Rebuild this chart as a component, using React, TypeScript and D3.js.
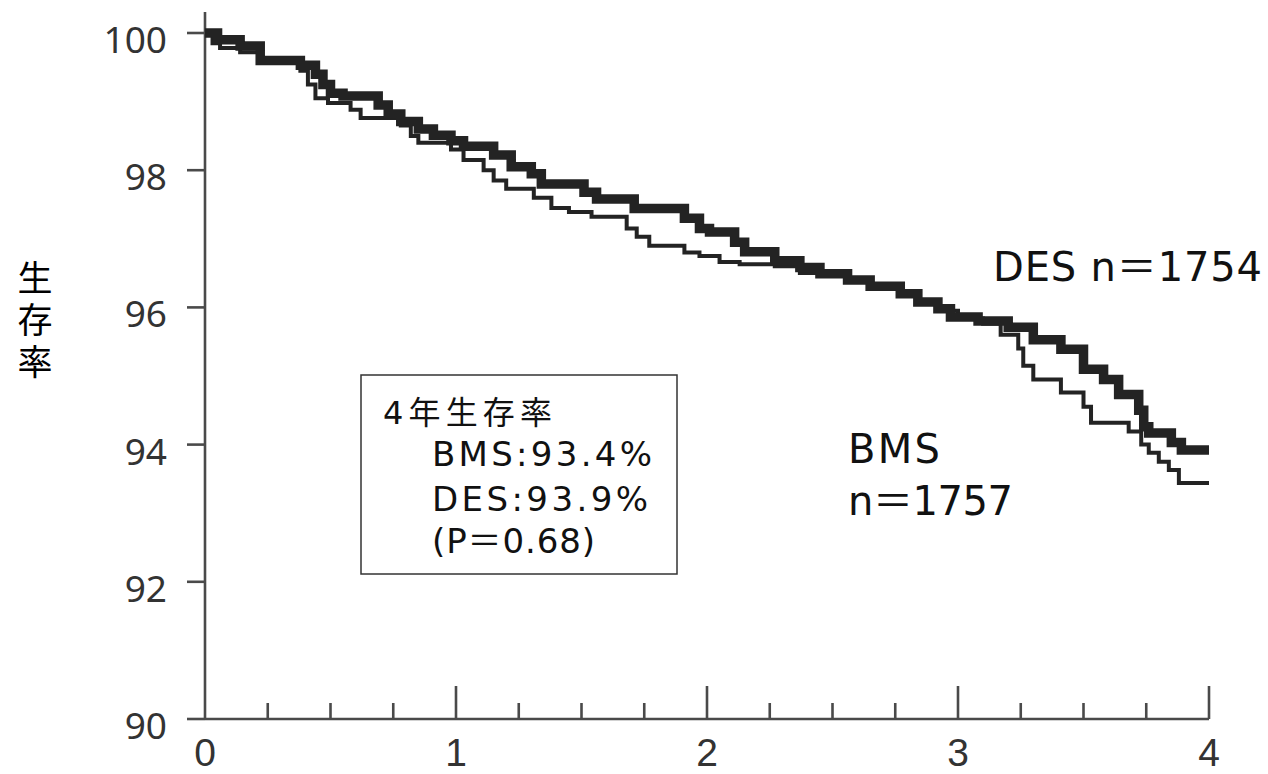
import React, { useEffect, useRef } from 'react';
import * as d3 from 'd3';

// Kaplan-Meier steps: [years, survival %]
const desPoints: [number, number][] = [
  [0, 100], [0.05, 99.9], [0.14, 99.81], [0.22, 99.6], [0.38, 99.53], [0.44, 99.4],
  [0.47, 99.25], [0.5, 99.12], [0.55, 99.08], [0.69, 98.95], [0.73, 98.82], [0.78, 98.71],
  [0.85, 98.6], [0.91, 98.51], [0.98, 98.43], [1.03, 98.35], [1.15, 98.22], [1.22, 98.05],
  [1.3, 97.95], [1.34, 97.8], [1.51, 97.68], [1.56, 97.58], [1.71, 97.44], [1.91, 97.3],
  [1.97, 97.15], [2.01, 97.1], [2.11, 96.95], [2.15, 96.81], [2.27, 96.68], [2.37, 96.58],
  [2.45, 96.49], [2.56, 96.4], [2.65, 96.31], [2.77, 96.2], [2.84, 96.08], [2.92, 95.98],
  [2.97, 95.86], [3.08, 95.8], [3.2, 95.71], [3.3, 95.53], [3.41, 95.39], [3.5, 95.1],
  [3.58, 94.95], [3.64, 94.73], [3.72, 94.5], [3.74, 94.26], [3.76, 94.17], [3.85, 94.03],
  [3.89, 93.92], [4.0, 93.92],
];

const bmsPoints: [number, number][] = [
  [0, 100], [0.03, 99.85], [0.06, 99.78], [0.14, 99.72], [0.22, 99.62], [0.38, 99.45],
  [0.41, 99.25], [0.44, 99.05], [0.49, 98.98], [0.58, 98.88], [0.62, 98.76], [0.78, 98.65],
  [0.82, 98.5], [0.85, 98.4], [0.98, 98.3], [1.03, 98.15], [1.11, 98.0], [1.15, 97.85],
  [1.2, 97.73], [1.31, 97.6], [1.38, 97.45], [1.45, 97.39], [1.54, 97.32], [1.68, 97.15],
  [1.72, 97.03], [1.77, 96.9], [1.91, 96.8], [1.97, 96.75], [2.05, 96.66], [2.13, 96.63],
  [2.27, 96.6], [2.37, 96.5], [2.56, 96.4], [2.65, 96.3], [2.77, 96.18], [2.84, 96.06],
  [2.92, 95.95], [3.0, 95.84], [3.1, 95.76], [3.17, 95.6], [3.24, 95.4], [3.26, 95.15],
  [3.3, 94.95], [3.41, 94.76], [3.5, 94.55], [3.53, 94.32], [3.68, 94.19], [3.73, 94.0],
  [3.76, 93.88], [3.8, 93.75], [3.84, 93.63], [3.88, 93.44], [4.0, 93.44],
];

const yTickValues = [90, 92, 94, 96, 98, 100];
const xTickValues = [0, 1, 2, 3, 4];
const xMinorTicks = d3.range(0.25, 4, 0.25).filter(d => !Number.isInteger(d));
const yTitle = '生存率';
const boxLines = ['4年生存率', 'BMS:93.4%', 'DES:93.9%', '(P＝0.68)'];
const desLabel = 'DES n＝1754';
const bmsLabel = ['BMS', 'n＝1757'];

const width = 1268;
const height = 774;
const latinFont = '"DejaVu Sans", "Noto Sans CJK JP", sans-serif';

const SurvivalChart = () => {
  const svgRef = useRef<SVGSVGElement>(null);

  useEffect(() => {
    const svg = d3.select(svgRef.current);
    svg.selectAll('*').remove();

    const x = d3.scaleLinear().domain([0, 4]).range([205, 1209]);
    const y = d3.scaleLinear().domain([90, 100]).range([719, 33]);
    const axisColor = '#4a4a4a';

    // axes
    svg.append('line')
      .attr('x1', x(0)).attr('x2', x(0)).attr('y1', 12).attr('y2', y(90))
      .attr('stroke', axisColor).attr('stroke-width', 2.6);
    svg.append('line')
      .attr('x1', x(0)).attr('x2', x(4)).attr('y1', y(90)).attr('y2', y(90))
      .attr('stroke', axisColor).attr('stroke-width', 2.6);

    // y ticks + labels
    const yt = svg.append('g');
    yt.selectAll('line').data(yTickValues).enter().append('line')
      .attr('x1', x(0) - 18).attr('x2', x(0))
      .attr('y1', d => y(d)).attr('y2', d => y(d))
      .attr('stroke', axisColor).attr('stroke-width', 2.6);
    yt.selectAll('text').data(yTickValues).enter().append('text')
      .attr('x', 167).attr('y', d => y(d) + 20)
      .attr('text-anchor', 'end')
      .attr('font-family', 'Noto Sans').attr('font-size', 37)
      .attr('fill', '#333')
      .text(d => d);

    // x ticks: long at whole years, short at quarters
    const xt = svg.append('g');
    xt.selectAll('line.major').data(xTickValues.filter(d => d > 0)).enter().append('line')
      .attr('class', 'major')
      .attr('x1', d => x(d)).attr('x2', d => x(d))
      .attr('y1', y(90)).attr('y2', y(90) - 33)
      .attr('stroke', axisColor).attr('stroke-width', 2.6);
    xt.selectAll('line.minor').data(xMinorTicks).enter().append('line')
      .attr('class', 'minor')
      .attr('x1', d => x(d)).attr('x2', d => x(d))
      .attr('y1', y(90)).attr('y2', y(90) - 16)
      .attr('stroke', axisColor).attr('stroke-width', 2.6);
    xt.selectAll('text').data(xTickValues).enter().append('text')
      .attr('x', d => x(d)).attr('y', 766)
      .attr('text-anchor', 'middle')
      .attr('font-family', 'Liberation Sans').attr('font-size', 39)
      .attr('fill', '#333')
      .text(d => d);

    // curves
    const line = d3.line<[number, number]>()
      .x(d => x(d[0]))
      .y(d => y(d[1]))
      .curve(d3.curveStepAfter);

    svg.append('path')
      .datum(bmsPoints)
      .attr('fill', 'none').attr('stroke', '#232323').attr('stroke-width', 4)
      .attr('d', line);
    svg.append('path')
      .datum(desPoints)
      .attr('fill', 'none').attr('stroke', '#232323').attr('stroke-width', 9.5)
      .attr('d', line);

    // y title, written vertically
    svg.append('text')
      .attr('x', 35).attr('y', 260)
      .style('writing-mode', 'vertical-rl')
      .attr('font-family', 'Noto Sans CJK JP').attr('font-size', 35)
      .attr('letter-spacing', 7)
      .attr('fill', '#000')
      .text(yTitle);

    // summary box
    svg.append('rect')
      .attr('x', 361).attr('y', 375).attr('width', 316).attr('height', 199)
      .attr('fill', '#fff').attr('stroke', '#333').attr('stroke-width', 1.5);
    const boxX = [383, 432, 432, 432];
    const boxY = [424, 466, 511, 553];
    const boxW = [169, 220, 216, 163];
    svg.append('g').selectAll('text').data(boxLines).enter().append('text')
      .attr('x', (d, i) => boxX[i]).attr('y', (d, i) => boxY[i])
      .attr('font-family', latinFont)
      .attr('font-size', (d, i) => (i === 0 ? 32 : 34))
      .attr('textLength', (d, i) => boxW[i])
      .attr('lengthAdjust', 'spacing')
      .attr('fill', '#111')
      .text(d => d);

    // group labels
    svg.append('text')
      .attr('x', 993).attr('y', 281)
      .attr('font-family', latinFont).attr('font-size', 40)
      .attr('textLength', 269).attr('lengthAdjust', 'spacing')
      .attr('fill', '#111')
      .text(desLabel);
    const bt = svg.append('text')
      .attr('font-family', latinFont).attr('font-size', 40)
      .attr('fill', '#111');
    bt.selectAll('tspan').data(bmsLabel).enter().append('tspan')
      .attr('x', 848).attr('y', (d, i) => 463 + i * 52)
      .attr('textLength', (d, i) => (i === 0 ? 92 : 165)).attr('lengthAdjust', 'spacing')
      .text(d => d);

    svg.attr('width', width);
    svg.attr('height', height);
  }, []);

  return <svg ref={svgRef} width={width} height={height} style={{ display: 'block' }} />;
};

export default function App() {
  return (
    <div style={{ position: 'absolute', left: 0, top: 0, background: '#fff' }}>
      <SurvivalChart />
    </div>
  );
}
